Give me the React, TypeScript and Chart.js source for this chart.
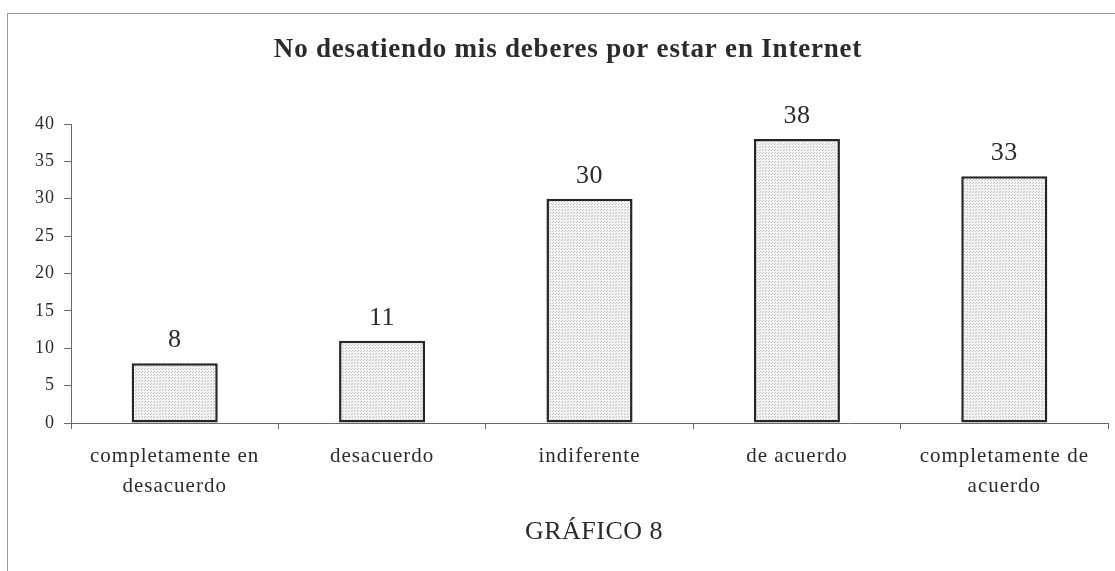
import React, { useEffect, useRef } from "react";
import { Chart, registerables } from "chart.js";

Chart.register(...registerables);

const categories: (string | string[])[] = [
  ["completamente en", "desacuerdo"],
  "desacuerdo",
  "indiferente",
  "de acuerdo",
  ["completamente de", "acuerdo"],
];
const values: number[] = [8, 11, 30, 38, 33];
const chartTitle = "No desatiendo mis deberes por estar en Internet";
const footerTitle = "GRÁFICO 8";
const yMin = 0;
const yMax = 40;
const yStep = 5;

const SERIF = "'Liberation Serif', 'Times New Roman', serif";
const TEXT = "#2b2b2b";
const AXIS = "#6a6a6a";

function makePattern(): CanvasPattern | string {
  const c = document.createElement("canvas");
  c.width = 3;
  c.height = 3;
  const g = c.getContext("2d");
  if (!g) return "#e8e8e8";
  g.fillStyle = "#f4f4f4";
  g.fillRect(0, 0, 3, 3);
  g.fillStyle = "#c2c2c2";
  g.fillRect(0, 0, 1, 1);
  g.fillRect(1, 2, 1, 1);
  const p = g.createPattern(c, "repeat");
  return p || "#e8e8e8";
}

const spacingPlugin = {
  id: "spacing",
  beforeUpdate(chart: any) {
    chart.ctx.letterSpacing = "1px";
  },
  beforeDraw(chart: any) {
    chart.ctx.letterSpacing = "1px";
  },
};

const textPlugin = {
  id: "texts",
  afterDraw(chart: any) {
    const ctx = chart.ctx;
    ctx.save();
    ctx.fillStyle = TEXT;
    // main title
    ctx.letterSpacing = "0.8px";
    ctx.font = `bold 27px ${SERIF}`;
    ctx.textAlign = "center";
    ctx.textBaseline = "alphabetic";
    ctx.fillText(chartTitle, 568, 57);
    // footer title
    ctx.letterSpacing = "0.5px";
    ctx.font = `26px ${SERIF}`;
    ctx.fillText(footerTitle, 594, 539);
    // value labels
    ctx.letterSpacing = "0.5px";
    ctx.font = `26px ${SERIF}`;
    const meta = chart.getDatasetMeta(0);
    meta.data.forEach((el: any, i: number) => {
      ctx.fillText(String(values[i]), el.x, el.y - 16);
    });
    ctx.restore();
  },
};

export default function App() {
  const ref = useRef<HTMLCanvasElement | null>(null);

  useEffect(() => {
    if (!ref.current) return;
    const chart = new Chart(ref.current, {
      type: "bar",
      data: {
        labels: categories,
        datasets: [
          {
            data: values,
            backgroundColor: makePattern() as any,
            borderColor: "#262626",
            borderWidth: 2.5,
            borderSkipped: false,
            categoryPercentage: 1,
            barPercentage: 0.415,
          },
        ],
      },
      options: {
        animation: false,
        responsive: false,
        maintainAspectRatio: false,
        devicePixelRatio: 1,
        layout: { padding: { top: 124, left: 0, right: 7, bottom: 0 } },
        plugins: {
          legend: { display: false },
          title: { display: false },
          tooltip: { enabled: false },
        },
        scales: {
          x: {
            afterFit: (scale: any) => {
              scale.height = 148;
            },
            grid: {
              display: true,
              drawOnChartArea: false,
              drawTicks: true,
              tickLength: 6,
              offset: true,
              color: AXIS,
            },
            border: { display: true, color: AXIS, width: 1 },
            ticks: {
              color: TEXT,
              font: { family: SERIF, size: 21, lineHeight: 1.45 },
              padding: 12,
              maxRotation: 0,
              autoSkip: false,
            },
          },
          y: {
            min: yMin,
            max: yMax,
            afterFit: (scale: any) => {
              scale.width = 71;
            },
            grid: {
              display: true,
              drawOnChartArea: false,
              drawTicks: true,
              tickLength: 7,
              color: AXIS,
            },
            border: { display: true, color: AXIS, width: 1 },
            ticks: {
              stepSize: yStep,
              color: TEXT,
              font: { family: SERIF, size: 18 },
              padding: 9,
            },
          },
        },
      },
      plugins: [spacingPlugin, textPlugin],
    });
    return () => chart.destroy();
  }, []);

  return (
    <div
      style={{
        position: "fixed",
        left: 0,
        top: 0,
        width: 1115,
        height: 571,
        background: "#ffffff",
      }}
    >
      <div
        style={{
          position: "absolute",
          left: 7,
          top: 13,
          right: 0,
          bottom: 0,
          borderLeft: "1px solid #9a9a9a",
          borderTop: "1px solid #9a9a9a",
        }}
      />
      <canvas
        ref={ref}
        width={1115}
        height={571}
        style={{ position: "absolute", left: 0, top: 0, width: 1115, height: 571 }}
      />
    </div>
  );
}
